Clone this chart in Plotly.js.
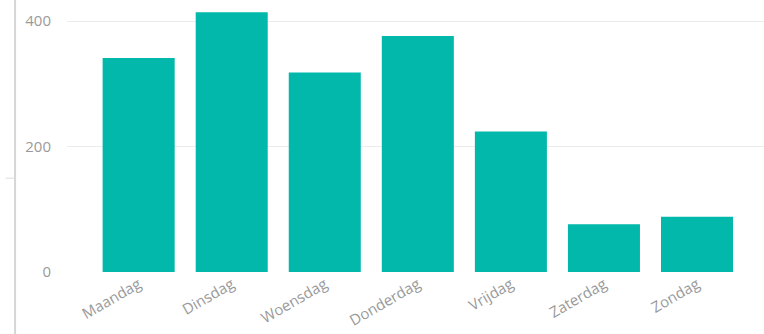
<!DOCTYPE html>
<html>
<head>
<meta charset="utf-8">
<script src="https://cdn.plot.ly/plotly-3.0.1.min.js"></script>
<style>html,body{margin:0;padding:0;background:#fff;}#chart{width:764px;height:334px;}</style>
</head>
<body>
<div id="chart"></div>
<script>
const days = ["Maandag","Dinsdag","Woensdag","Donderdag","Vrijdag","Zaterdag","Zondag"];
const counts = [341, 414, 318, 376, 224, 76, 88];
const yTicks = [0, 200, 400];

const trace = {
  type: "bar",
  x: days,
  y: counts,
  marker: {color: "#01B8AA"},
  hoverinfo: "x+y"
};

const layout = {
  width: 764,
  height: 334,
  margin: {l: 67, r: 0, t: 0, b: 62},
  paper_bgcolor: "#ffffff",
  plot_bgcolor: "#ffffff",
  bargap: 0.226,
  showlegend: false,
  font: {family: "Open Sans, DejaVu Sans, sans-serif", color: "#999999", size: 15},
  xaxis: {
    type: "category",
    range: [-0.77, 6.72],
    tickangle: -30,
    showgrid: false,
    zeroline: false,
    showline: false,
    ticks: "",
    tickfont: {size: 15, color: "#9a9a9a"}
  },
  yaxis: {
    range: [0, 433.5],
    tickvals: yTicks,
    ticktext: yTicks.map(String),
    showgrid: true,
    gridcolor: "#ececec",
    gridwidth: 1,
    zeroline: false,
    showline: false,
    ticks: "",
    ticklabelstandoff: 15,
    tickfont: {size: 15, color: "#9a9a9a"}
  },
  shapes: [
    {type: "line", xref: "paper", yref: "paper", x0: -0.0745, x1: -0.0745, y0: -0.23, y1: 1,
     line: {color: "#d6d6d6", width: 2}},
    {type: "line", xref: "paper", yref: "paper", x0: -0.088, x1: -0.0745, y0: 0.345, y1: 0.345,
     line: {color: "#dddddd", width: 1}}
  ]
};

Plotly.newPlot("chart", [trace], layout, {displayModeBar: false, staticPlot: true});
</script>
</body>
</html>
